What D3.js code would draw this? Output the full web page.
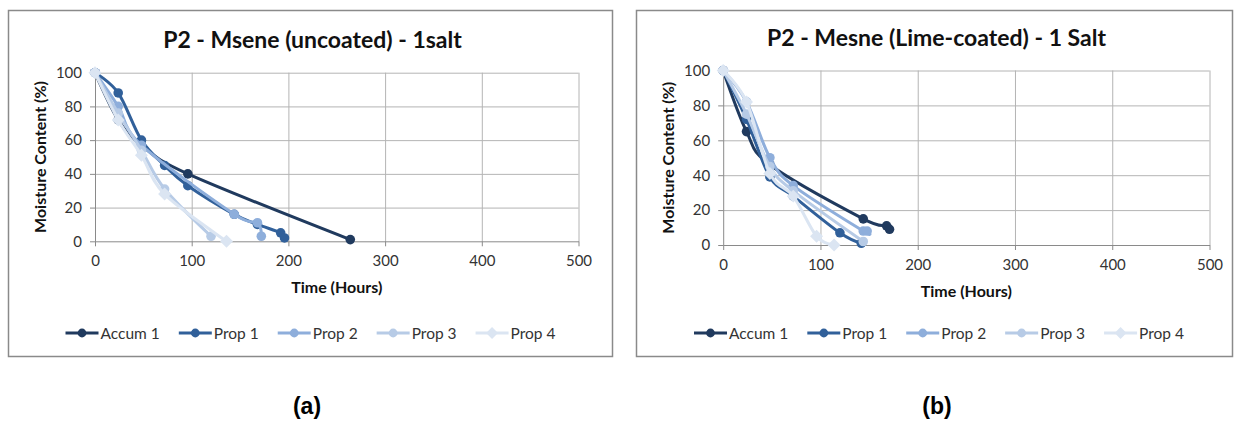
<!DOCTYPE html>
<html>
<head>
<meta charset="utf-8">
<script src="https://cdn.jsdelivr.net/npm/d3@7"></script>
<style>
  html, body { margin: 0; padding: 0; background: #ffffff; }
  svg { display: block; }
</style>
</head>
<body>
<svg id="chart" width="1235" height="421"></svg>
<script>
// Axis ticks shared by both panels
const hourTicks = [0, 100, 200, 300, 400, 500];
const moistureTicks = [0, 20, 40, 60, 80, 100];
const seriesNames = ["Accum 1", "Prop 1", "Prop 2", "Prop 3", "Prop 4"];

// Panel (a): uncoated samples, [hours, moisture %]
const uncoatedAccum1 = [[0, 100], [24, 72], [48, 57], [96, 40], [264, 1]];
const uncoatedProp1 = [[0, 100], [24, 88], [48, 60], [72, 45], [96, 33], [144, 16], [168, 10], [192, 5], [196, 2]];
const uncoatedProp2 = [[0, 100], [24, 80], [48, 57], [144, 16], [168, 11], [172, 3]];
const uncoatedProp3 = [[0, 100], [24, 76], [48, 54], [72, 31], [120, 3]];
const uncoatedProp4 = [[0, 100], [24, 72], [48, 51], [72, 28], [136, 0]];

// Panel (b): lime-coated samples, [hours, moisture %]
const coatedAccum1 = [[0, 100], [24, 65], [48, 46], [144, 15], [168, 11], [171, 9]];
const coatedProp1 = [[0, 100], [24, 72], [48, 39], [72, 28], [120, 7], [142, 1]];
const coatedProp2 = [[0, 100], [24, 82], [48, 50], [72, 34], [144, 8], [148, 8]];
const coatedProp3 = [[0, 100], [24, 75], [48, 45], [72, 31], [144, 2]];
const coatedProp4 = [[0, 100], [24, 82], [48, 41], [72, 28], [96, 5], [114, 0]];

const panelTitles = ["P2 - Msene (uncoated) - 1salt", "P2 - Mesne (Lime-coated) - 1 Salt"];
const panelLetters = ["(a)", "(b)"];
const xAxisTitle = "Time (Hours)";
const yAxisTitle = "Moisture Content (%)";

// Styling
const colors = ["#203a5e", "#31609a", "#8eaedb", "#b7cbe6", "#dbe5f2"];
const markerShapes = ["circle", "circle", "circle", "circle", "diamond"];
const FONT = "Lato, 'Open Sans', sans-serif";

const svg = d3.select("#chart");

const panels = [
  {
    frame: { x0: 8.5, y0: 10.5, x1: 612.5, y1: 356.5 },
    plot: { left: 95, right: 578.5, top: 72.7, bottom: 241.3 },
    titleY: 48, legendY: 333, legendCenter: 310.5, letterX: 307,
    series: [uncoatedAccum1, uncoatedProp1, uncoatedProp2, uncoatedProp3, uncoatedProp4]
  },
  {
    frame: { x0: 636.5, y0: 10.5, x1: 1232.5, y1: 356.5 },
    plot: { left: 723.2, right: 1209.5, top: 70.5, bottom: 245 },
    titleY: 46, legendY: 333, legendCenter: 939, letterX: 937,
    series: [coatedAccum1, coatedProp1, coatedProp2, coatedProp3, coatedProp4]
  }
];

function drawMarker(g, shape, cx, cy, color, size) {
  if (shape === "diamond") {
    const s = size * 1.35;
    g.append("path")
      .attr("d", `M${cx},${cy - s}L${cx + s},${cy}L${cx},${cy + s}L${cx - s},${cy}Z`)
      .attr("fill", color);
  } else {
    g.append("circle").attr("cx", cx).attr("cy", cy).attr("r", size).attr("fill", color);
  }
}

panels.forEach((p, pi) => {
  const g = svg.append("g");
  const f = p.frame;

  // Chart frame
  g.append("rect")
    .attr("x", f.x0).attr("y", f.y0)
    .attr("width", f.x1 - f.x0).attr("height", f.y1 - f.y0)
    .attr("fill", "#ffffff").attr("stroke", "#8a8a8a").attr("stroke-width", 1.5);

  const x = d3.scaleLinear().domain([0, 500]).range([p.plot.left, p.plot.right]);
  const y = d3.scaleLinear().domain([0, 100]).range([p.plot.bottom, p.plot.top]);

  // Gridlines
  g.append("g")
    .attr("transform", `translate(0,${p.plot.bottom})`)
    .call(d3.axisBottom(x).tickValues(hourTicks.slice(1)).tickSize(-(p.plot.bottom - p.plot.top)).tickFormat(""))
    .call(a => a.select(".domain").remove())
    .call(a => a.selectAll("line").attr("stroke", "#b4b4b4").attr("stroke-width", 1));
  g.append("g")
    .attr("transform", `translate(${p.plot.left},0)`)
    .call(d3.axisLeft(y).tickValues(moistureTicks.slice(1)).tickSize(-(p.plot.right - p.plot.left)).tickFormat(""))
    .call(a => a.select(".domain").remove())
    .call(a => a.selectAll("line").attr("stroke", "#b4b4b4").attr("stroke-width", 1));

  // Axes with outside tick marks
  const xAxis = g.append("g")
    .attr("transform", `translate(0,${p.plot.bottom})`)
    .call(d3.axisBottom(x).tickValues(hourTicks).tickSize(5).tickPadding(9).tickSizeOuter(0));
  const yAxis = g.append("g")
    .attr("transform", `translate(${p.plot.left},0)`)
    .call(d3.axisLeft(y).tickValues(moistureTicks).tickSize(5).tickPadding(8).tickSizeOuter(0));
  [xAxis, yAxis].forEach(a => {
    a.select(".domain").attr("stroke", "#8a8a8a");
    a.selectAll(".tick line").attr("stroke", "#8a8a8a");
    a.selectAll(".tick text").attr("font-family", FONT).attr("font-size", 15).attr("fill", "#333");
  });

  // Series lines and markers
  const line = d3.line()
    .x(d => x(d[0])).y(d => y(d[1]))
    .curve(d3.curveCatmullRom.alpha(0));
  p.series.forEach((data, si) => {
    const sg = g.append("g");
    sg.append("path")
      .attr("d", line(data))
      .attr("fill", "none")
      .attr("stroke", colors[si])
      .attr("stroke-width", 3)
      .attr("stroke-linejoin", "round")
      .attr("stroke-linecap", "round");
    data.forEach(d => drawMarker(sg, markerShapes[si], x(d[0]), y(d[1]), colors[si], 4.8));
  });

  // Titles
  const midFrame = (f.x0 + f.x1) / 2;
  g.append("text")
    .attr("x", midFrame + 2).attr("y", p.titleY)
    .attr("text-anchor", "middle")
    .attr("font-family", FONT).attr("font-weight", "bold").attr("font-size", 23)
    .attr("fill", "#111")
    .text(panelTitles[pi]);
  g.append("text")
    .attr("x", (p.plot.left + p.plot.right) / 2).attr("y", p.plot.bottom + 52)
    .attr("text-anchor", "middle")
    .attr("font-family", FONT).attr("font-weight", "bold").attr("font-size", 16)
    .attr("fill", "#111")
    .text(xAxisTitle);
  g.append("text")
    .attr("transform", `translate(${p.plot.left - 49},${(p.plot.top + p.plot.bottom) / 2}) rotate(-90)`)
    .attr("text-anchor", "middle")
    .attr("font-family", FONT).attr("font-weight", "bold").attr("font-size", 16)
    .attr("fill", "#111")
    .text(yAxisTitle);

  // Legend
  const lg = g.append("g");
  const items = seriesNames.map((name, si) => {
    const ig = lg.append("g");
    ig.append("line").attr("x1", 0).attr("x2", 33).attr("y1", 0).attr("y2", 0)
      .attr("stroke", colors[si]).attr("stroke-width", 3);
    drawMarker(ig, markerShapes[si], 16.5, 0, colors[si], 4.4);
    const t = ig.append("text").attr("x", 35).attr("y", 5.5)
      .attr("font-family", FONT).attr("font-size", 15.5).attr("fill", "#333")
      .text(name);
    return { g: ig, w: 35 + t.node().getComputedTextLength() };
  });
  const gap = 19;
  const total = d3.sum(items, d => d.w) + gap * (items.length - 1);
  let cx = p.legendCenter - total / 2;
  items.forEach(it => {
    it.g.attr("transform", `translate(${cx},${p.legendY})`);
    cx += it.w + gap;
  });

  // Panel letter
  svg.append("text")
    .attr("x", p.letterX).attr("y", 414)
    .attr("text-anchor", "middle")
    .attr("font-family", "'Liberation Sans', Arial, sans-serif").attr("font-weight", "bold").attr("font-size", 23)
    .attr("fill", "#000")
    .text(panelLetters[pi]);
});
</script>
</body>
</html>
